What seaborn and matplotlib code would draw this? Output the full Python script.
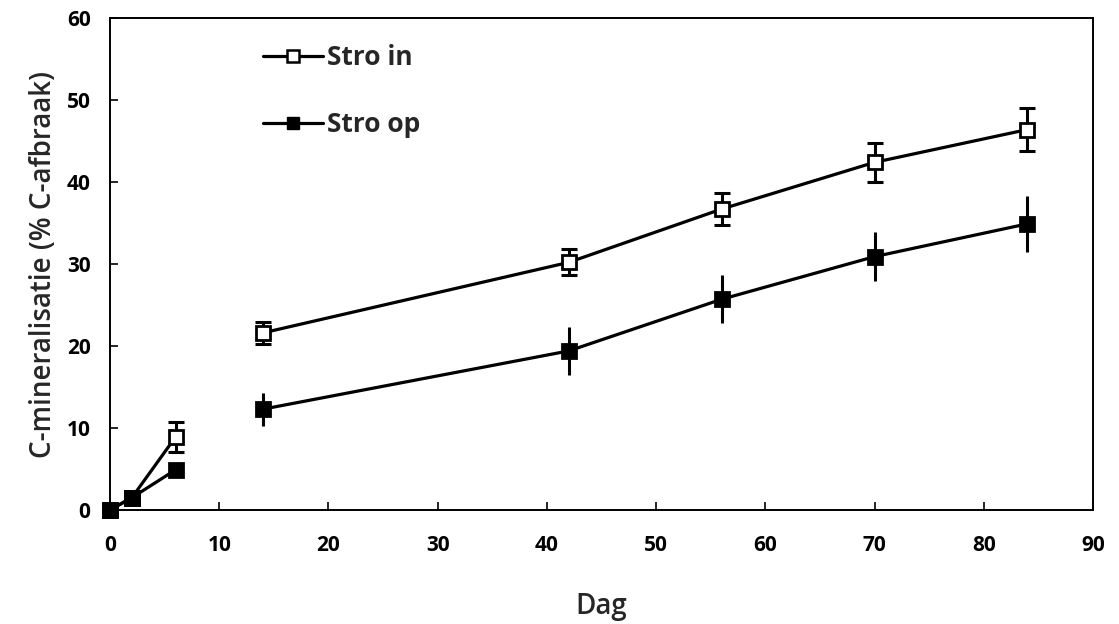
import matplotlib
matplotlib.use("Agg")
import matplotlib.pyplot as plt
import seaborn as sns
import pandas as pd
from matplotlib.lines import Line2D

# Incubation days and C mineralisation (% of added C decomposed)
dag = [0, 2, 6, 14, 42, 56, 70, 84]
segment = [0, 0, 0, 1, 1, 1, 1, 1]  # lines are broken between day 6 and day 14
stro_in = [0.0, 1.5, 8.9, 21.6, 30.2, 36.7, 42.4, 46.4]
stro_in_err = [0.0, 0.3, 1.8, 1.3, 1.6, 1.9, 2.4, 2.6]
stro_op = [0.0, 1.5, 4.9, 12.3, 19.4, 25.7, 30.9, 34.9]
stro_op_err = [0.0, 0.3, 0.4, 2.0, 2.9, 2.9, 3.0, 3.4]

series = ["Stro in", "Stro op"]
x_ticks = [0, 10, 20, 30, 40, 50, 60, 70, 80, 90]
y_ticks = [0, 10, 20, 30, 40, 50, 60]

df = pd.concat([
    pd.DataFrame({"Dag": dag, "seg": segment, "waarde": stro_in, "fout": stro_in_err, "behandeling": series[0]}),
    pd.DataFrame({"Dag": dag, "seg": segment, "waarde": stro_op, "fout": stro_op_err, "behandeling": series[1]}),
], ignore_index=True)

sns.set_theme(style="ticks")
plt.rcParams["font.family"] = ["Open Sans", "DejaVu Sans"]

fig = plt.figure(figsize=(11.19, 6.24), dpi=100)
ax = fig.add_axes([110 / 1119, 1 - 510 / 624, (1093 - 110) / 1119, (510 - 18) / 624])

styles = {
    "Stro in": dict(mfc="white", capsize=6),
    "Stro op": dict(mfc="black", capsize=0),
}

for name in series:
    sub = df[df["behandeling"] == name]
    sns.lineplot(data=sub, x="Dag", y="waarde", units="seg", estimator=None,
                 color="black", linewidth=2.3, ax=ax, legend=False, zorder=2)
    st = styles[name]
    ax.errorbar(sub["Dag"], sub["waarde"], yerr=sub["fout"], fmt="none",
                ecolor="black", elinewidth=2.2, capsize=st["capsize"], capthick=2.2, zorder=3)
    ax.plot(sub["Dag"], sub["waarde"], linestyle="none", marker="s",
            markersize=10, markerfacecolor=st["mfc"], markeredgecolor="black",
            markeredgewidth=2.0, zorder=4, clip_on=False)

handles = [
    Line2D([], [], color="black", linewidth=2.3, marker="s", markersize=9,
           markerfacecolor="white", markeredgecolor="black", markeredgewidth=1.8),
    Line2D([], [], color="black", linewidth=2.3, marker="s", markersize=9,
           markerfacecolor="black", markeredgecolor="black"),
]
ax.legend(handles, series, loc="upper left", bbox_to_anchor=(0.131, 0.995),
          frameon=False, handlelength=2.3, handletextpad=0.15, labelspacing=1.5,
          prop={"size": 19, "weight": "bold"})

ax.set_xlim(0, 90)
ax.set_ylim(0, 60)
ax.set_xticks(x_ticks)
ax.set_yticks(y_ticks)
ax.tick_params(direction="in", length=6, width=1.2, colors="black", labelsize=15)
ax.tick_params(axis="x", pad=18)
ax.tick_params(axis="y", pad=14)
for lbl in ax.get_xticklabels() + ax.get_yticklabels():
    lbl.set_fontweight("bold")
for sp in ax.spines.values():
    sp.set_linewidth(1.4)
    sp.set_color("black")
    sp.set_visible(True)

ax.set_xlabel("Dag", fontsize=20, fontweight="semibold", labelpad=26)
ax.set_ylabel("C-mineralisatie (% C-afbraak)", fontsize=20, fontweight="semibold", labelpad=6)

fig.savefig("out.png", dpi=100, facecolor="white")
